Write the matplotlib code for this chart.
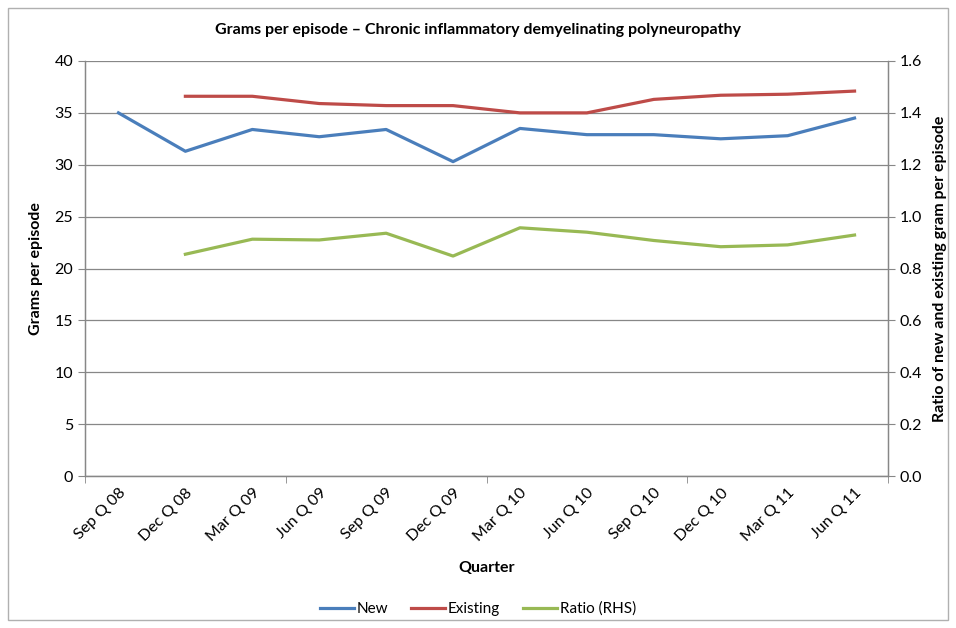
import matplotlib
matplotlib.use("Agg")
import matplotlib.pyplot as plt
from matplotlib.patches import Rectangle
from matplotlib.ticker import FixedLocator, FormatStrFormatter
import numpy as np

quarters = ["Sep Q 08", "Dec Q 08", "Mar Q 09", "Jun Q 09", "Sep Q 09", "Dec Q 09",
            "Mar Q 10", "Jun Q 10", "Sep Q 10", "Dec Q 10", "Mar Q 11", "Jun Q 11"]
new = [35.0, 31.3, 33.4, 32.7, 33.4, 30.3, 33.5, 32.9, 32.9, 32.5, 32.8, 34.5]
existing = [np.nan, 36.6, 36.6, 35.9, 35.7, 35.7, 35.0, 35.0, 36.3, 36.7, 36.8, 37.1]
ratio = [np.nan, 0.855, 0.913, 0.910, 0.936, 0.848, 0.957, 0.940, 0.908, 0.884, 0.891, 0.929]

plt.rcParams['font.family'] = ['Lato', 'DejaVu Sans']

fig = plt.figure(figsize=(9.56, 6.28), dpi=100)
ax = fig.add_axes([85/956, 1-476/628, (888-85)/956, (476-61)/628])
ax2 = ax.twinx()

x = np.arange(len(quarters))
grid_c = '#878787'
l1, = ax.plot(x, new, color='#4A7EBB', lw=2.3, label='New')
l2, = ax.plot(x, existing, color='#BE4B48', lw=2.3, label='Existing')
l3, = ax2.plot(x, ratio, color='#98B954', lw=2.3, label='Ratio (RHS)')

ax.set_xlim(-0.5, len(quarters)-0.5)
ax.set_ylim(0, 40)
ax2.set_ylim(0, 1.6)
ax.set_yticks(np.arange(0, 41, 5))
ax2.set_yticks(np.arange(0, 1.61, 0.2))
ax2.yaxis.set_major_formatter(FormatStrFormatter('%.1f'))
ax.yaxis.grid(True, color=grid_c, lw=0.9)
ax.set_axisbelow(True)

ax.set_xticks(x)
ax.set_xticklabels(quarters, rotation=45, ha='right', rotation_mode='anchor', fontsize=11.5)
ax.tick_params(axis='x', length=0, pad=7)
ax.xaxis.set_minor_locator(FixedLocator([-0.5, 2.5, 5.5, 8.5, 11.5]))
ax.tick_params(axis='x', which='minor', length=5, color=grid_c)
ax.tick_params(axis='y', labelsize=11.5, length=5, color=grid_c)
ax2.tick_params(axis='y', labelsize=11.5, length=5, color=grid_c)

for a in (ax, ax2):
    a.spines['top'].set_visible(False)
    for s in ('left', 'right', 'bottom'):
        a.spines[s].set_color(grid_c)
        a.spines[s].set_linewidth(0.9)

ax.set_xlabel('Quarter', fontsize=11.5, fontweight='bold', labelpad=12)
ax.set_ylabel('Grams per episode', fontsize=11.5, fontweight='bold', labelpad=8)
ax2.set_ylabel('Ratio of new and existing gram per episode', fontsize=11.5, fontweight='bold', labelpad=8)
fig.text(0.5, 1-30/628, 'Grams per episode \u2013 Chronic inflammatory demyelinating polyneuropathy',
         ha='center', va='center', fontsize=11.5, fontweight='bold')

fig.legend(handles=[l1, l2, l3], loc='center', bbox_to_anchor=(0.5, 1-609/628), ncol=3,
           frameon=False, fontsize=11, handlelength=2.2, handletextpad=0.2, columnspacing=1.5)

fig.patches.append(Rectangle((8/956, 1-620/628), 940/956, 612/628, transform=fig.transFigure,
                             fill=False, edgecolor='#b0b0b0', lw=1))

fig.savefig('out.png', dpi=100)
